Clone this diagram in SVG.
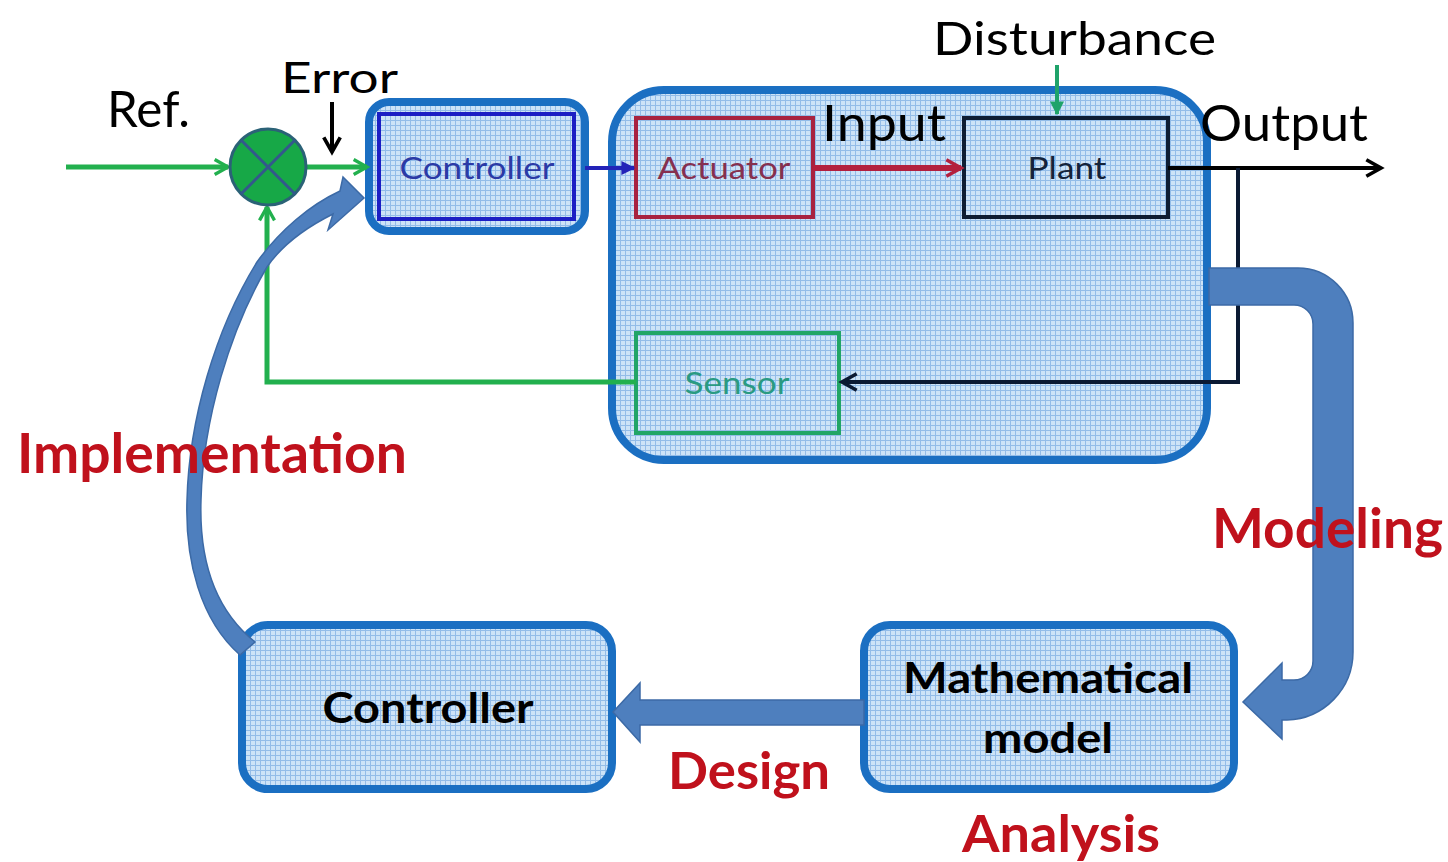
<svg xmlns="http://www.w3.org/2000/svg" width="1448" height="862" viewBox="0 0 1448 862">
  <defs>
    <!-- light blue hatched fill used by all boxes -->
    <pattern id="grid" width="5" height="5" patternUnits="userSpaceOnUse">
      <rect width="5" height="5" fill="#cde3f7"/>
      <path d="M0 0.5H5M0.5 0V5" stroke="#93bce8" stroke-width="1" fill="none"/>
    </pattern>
    <marker id="openGreen" viewBox="0 0 12 12" refX="10" refY="6" markerWidth="20" markerHeight="20" markerUnits="userSpaceOnUse" orient="auto">
      <path d="M2 1.5L10 6L2 10.5" fill="none" stroke="#22b04e" stroke-width="2"/>
    </marker>
    <marker id="openBlack" viewBox="0 0 12 12" refX="10" refY="6" markerWidth="22" markerHeight="22" markerUnits="userSpaceOnUse" orient="auto">
      <path d="M2 1.5L10 6L2 10.5" fill="none" stroke="#000" stroke-width="2"/>
    </marker>
    <marker id="openNavy" viewBox="0 0 12 12" refX="10" refY="6" markerWidth="22" markerHeight="22" markerUnits="userSpaceOnUse" orient="auto">
      <path d="M2 1.5L10 6L2 10.5" fill="none" stroke="#0b1a33" stroke-width="2"/>
    </marker>
    <marker id="openRed" viewBox="0 0 12 12" refX="10" refY="6" markerWidth="22" markerHeight="22" markerUnits="userSpaceOnUse" orient="auto">
      <path d="M2 1.5L10 6L2 10.5" fill="none" stroke="#b3203e" stroke-width="2"/>
    </marker>
    <marker id="fillBlue" viewBox="0 0 10 10" refX="9" refY="5" markerWidth="14" markerHeight="14" markerUnits="userSpaceOnUse" orient="auto">
      <path d="M0 0L10 5L0 10Z" fill="#2323b8"/>
    </marker>
    <marker id="fillTeal" viewBox="0 0 10 10" refX="9" refY="5" markerWidth="14" markerHeight="14" markerUnits="userSpaceOnUse" orient="auto">
      <path d="M0 0L10 5L0 10Z" fill="#1fa36a"/>
    </marker>
    <style>
      text { font-family: Lato, "Liberation Sans", sans-serif; }
      .lbl { font-size: 50px; fill: #000; }
      .inner { font-size: 30px; text-anchor: middle; }
      .stage { font-size: 55px; font-weight: bold; fill: #c0111c; }
      .boxtxt { font-size: 42px; font-weight: bold; fill: #000; text-anchor: middle; }
      .group { fill: url(#grid); stroke: #1b6fc2; stroke-width: 8; }
      .bigArrow { fill: #4e7fbe; stroke: #3c6aa6; stroke-width: 1.5; }
    </style>
  </defs>

  <rect width="1448" height="862" fill="#fff"/>

  <!-- plant group container -->
  <g id="process">
    <rect class="group" x="612" y="90" width="595" height="370" rx="52"/>
  </g>

  <!-- controller (loop) -->
  <g id="controller-block">
    <rect class="group" x="369" y="102" width="216" height="129" rx="20"/>
    <rect x="379" y="114" width="195" height="105" fill="none" stroke="#1c1fc4" stroke-width="4"/>
    <text class="inner" x="477" y="179" fill="#2b3aa6" textLength="155" lengthAdjust="spacingAndGlyphs">Controller</text>
  </g>

  <g id="actuator">
    <rect x="636" y="118" width="177" height="99" fill="none" stroke="#a8233f" stroke-width="4"/>
    <text class="inner" x="724" y="179" fill="#86304f" textLength="133" lengthAdjust="spacingAndGlyphs">Actuator</text>
  </g>

  <g id="plant">
    <rect x="964" y="118" width="204" height="99" fill="none" stroke="#0e1d33" stroke-width="4"/>
    <text class="inner" x="1067" y="179" fill="#14233a" textLength="79" lengthAdjust="spacingAndGlyphs">Plant</text>
  </g>

  <g id="sensor">
    <rect x="636" y="333" width="203" height="100" fill="none" stroke="#21a566" stroke-width="4"/>
    <text class="inner" x="737" y="394" fill="#2a9a82" textLength="105" lengthAdjust="spacingAndGlyphs">Sensor</text>
  </g>

  <g id="controller-design">
    <rect class="group" x="242" y="625" width="370" height="164" rx="26"/>
    <text class="boxtxt" x="428" y="723" textLength="211" lengthAdjust="spacingAndGlyphs">Controller</text>
  </g>

  <g id="math-model">
    <rect class="group" x="864" y="625" width="370" height="164" rx="26"/>
    <text class="boxtxt" x="1048" y="693" textLength="290" lengthAdjust="spacingAndGlyphs">Mathematical</text>
    <text class="boxtxt" x="1048" y="753" textLength="130" lengthAdjust="spacingAndGlyphs">model</text>
  </g>

  <!-- signal connectors -->
  <g id="connectors" fill="none" stroke-linejoin="miter">
    <path d="M66 167H228" stroke="#22b04e" stroke-width="5" marker-end="url(#openGreen)"/>
    <path d="M307 167H367" stroke="#22b04e" stroke-width="5" marker-end="url(#openGreen)"/>
    <path d="M636 382H267V207" stroke="#22b04e" stroke-width="5" marker-end="url(#openGreen)"/>
    <path d="M332 102V152" stroke="#000" stroke-width="4" marker-end="url(#openBlack)"/>
    <path d="M585 168H634" stroke="#2323b8" stroke-width="4" marker-end="url(#fillBlue)"/>
    <path d="M813 168H961" stroke="#b3203e" stroke-width="6" marker-end="url(#openRed)"/>
    <path d="M1057 65V114" stroke="#1fa36a" stroke-width="4" marker-end="url(#fillTeal)"/>
    <path d="M1168 168H1381" stroke="#000" stroke-width="4" marker-end="url(#openBlack)"/>
    <path d="M1238 168V382H842" stroke="#0b1a33" stroke-width="4" marker-end="url(#openNavy)"/>
  </g>

  <!-- summing junction -->
  <g id="sum">
    <circle cx="268" cy="167" r="38" fill="#17a847" stroke="#2b6277" stroke-width="3"/>
    <path d="M241 140L295 194M295 140L241 194" stroke="#33588c" stroke-width="3"/>
  </g>

  <!-- workflow arrows -->
  <g id="workflow">
    <path class="bigArrow" d="M1209 268H1298A55 55 0 0 1 1353 323V652A68 68 0 0 1 1287 720H1282V739L1243 702L1282 663V680H1294A19 19 0 0 0 1313 661V324A19 19 0 0 0 1294 305H1209Z"/>
    <path class="bigArrow" d="M864 700H640V683L613 712L640 742V725H864Z"/>
    <path class="bigArrow" d="M240 655C200 620 185 560 187 500C189 420 215 330 257 262C280 230 310 205 340 191L343 177L364 198L328 230L333 214C305 228 282 245 267 267C230 330 203 420 201 500C199 560 215 610 255 642Z"/>
  </g>

  <!-- labels -->
  <g id="labels">
    <text class="lbl" x="107" y="127" textLength="83" lengthAdjust="spacingAndGlyphs">Ref.</text>
    <text class="lbl" x="281" y="93" style="font-size:42px" textLength="117" lengthAdjust="spacingAndGlyphs">Error</text>
    <text class="lbl" x="933" y="55" style="font-size:47px" textLength="283" lengthAdjust="spacingAndGlyphs">Disturbance</text>
    <text class="lbl" x="822" y="141" textLength="124" lengthAdjust="spacingAndGlyphs">Input</text>
    <text class="lbl" x="1200" y="141" textLength="168" lengthAdjust="spacingAndGlyphs">Output</text>
    <text class="stage" x="17" y="473" textLength="390" lengthAdjust="spacingAndGlyphs">Implementation</text>
    <text class="stage" x="1212" y="548" textLength="231" lengthAdjust="spacingAndGlyphs">Modeling</text>
    <text class="stage" x="668" y="789" style="font-size:52px" textLength="162" lengthAdjust="spacingAndGlyphs">Design</text>
    <text class="stage" x="962" y="852" style="font-size:52px" textLength="198" lengthAdjust="spacingAndGlyphs">Analysis</text>
  </g>
</svg>
